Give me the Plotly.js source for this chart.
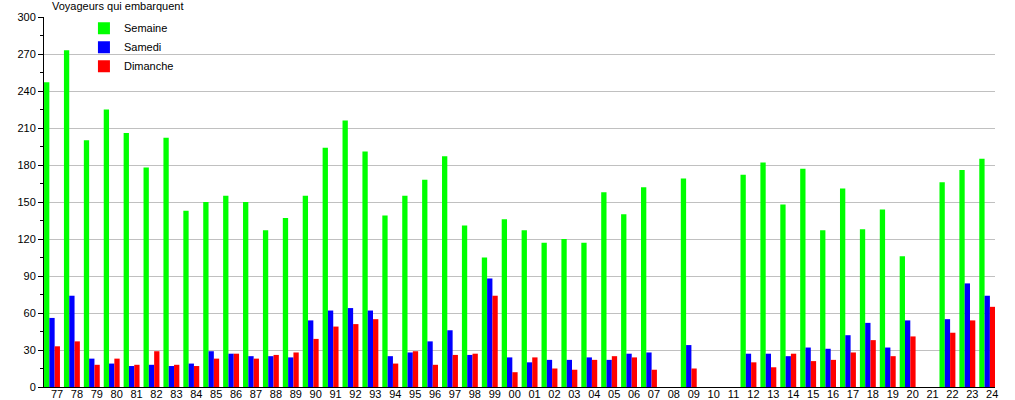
<!DOCTYPE html>
<html>
<head>
<meta charset="utf-8">
<script src="https://cdn.plot.ly/plotly-3.0.1.min.js"></script>
<style>
html,body{margin:0;padding:0;background:#fff;}
#chart{width:1015px;height:400px;}
</style>
</head>
<body>
<div id="chart"></div>
<script>
var years = ["77","78","79","80","81","82","83","84","85","86","87","88","89","90","91","92","93","94","95","96","97","98","99",
             "00","01","02","03","04","05","06","07","08","09","10","11","12","13","14","15","16","17","18","19","20","21","22","23","24"];
var semaine = [247,273,200,225,206,178,202,143,150,155,150,127,137,155,194,216,191,139,155,168,187,131,105,
               136,127,117,120,117,158,140,162,null,169,null,null,172,182,148,177,127,161,128,144,106,null,166,176,185];
var samedi = [56,74,23,19,17,18,17,19,29,27,25,25,24,54,62,64,62,25,28,37,46,26,88,
              24,20,22,22,24,22,27,28,null,34,null,null,27,27,25,32,31,42,52,32,54,null,55,84,74];
var dimanche = [33,37,18,23,18,29,18,17,23,27,23,26,28,39,49,51,55,19,29,18,26,27,74,
                12,24,15,14,22,25,24,14,null,15,null,null,20,16,27,21,22,28,38,25,41,null,44,54,65];

var seriesNames = ["Semaine","Samedi","Dimanche"];
var seriesColors = ["#00ff00","#0000ff","#ff0000"];
var seriesData = [semaine, samedi, dimanche];

var traces = seriesData.map(function(d,i){
  return {type:"bar", x:years, y:d, name:seriesNames[i],
          marker:{color:seriesColors[i], line:{width:0}}, hoverinfo:"x+y+name"};
});

var layout = {
  width:1015, height:400,
  margin:{l:44, r:20, t:17, b:13, pad:0},
  paper_bgcolor:"#fff", plot_bgcolor:"#fff",
  font:{family:"Liberation Sans, Arial, sans-serif", size:11, color:"#000"},
  barmode:"group", bargap:0.2, bargroupgap:0,
  showlegend:true,
  legend:{x:0.042, y:1.009, xanchor:"left", yanchor:"top", bgcolor:"rgba(0,0,0,0)",
          font:{size:11, color:"#000"}, traceorder:"normal", tracegroupgap:0},
  xaxis:{type:"category", range:[-0.402, 47.39], showline:true, linecolor:"#000", linewidth:1,
         ticks:"", showgrid:false, zeroline:false, tickfont:{size:11}, ticklabelshift:5,
         ticklabelstandoff:-3, tickangle:0, fixedrange:true},
  yaxis:{range:[0,300], dtick:30, tick0:0, showline:true, linecolor:"#000", linewidth:1,
         ticks:"outside", ticklen:5, tickcolor:"#000", showgrid:true, gridcolor:"#c0c0c0", gridwidth:1,
         zeroline:false, tickfont:{size:11},
         minor:{dtick:15, ticks:"outside", ticklen:3, tickcolor:"#000", showgrid:false},
         fixedrange:true},
  annotations:[{text:"Voyageurs qui embarquent", xref:"paper", yref:"paper", x:0.006, y:1.031,
                xanchor:"left", yanchor:"middle", showarrow:false, font:{size:11, color:"#000"}}]
};

Plotly.newPlot("chart", traces, layout, {displayModeBar:false, staticPlot:true});
</script>
</body>
</html>
